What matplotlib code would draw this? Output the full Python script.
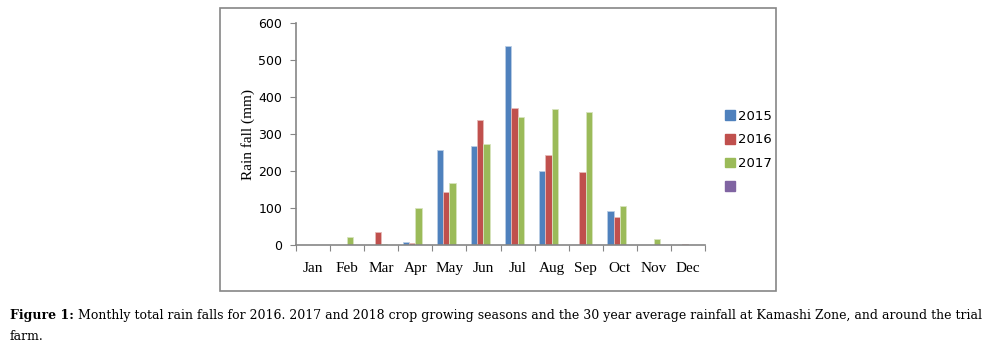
import matplotlib
matplotlib.use("Agg")
import matplotlib.pyplot as plt
from matplotlib.patches import Rectangle
import numpy as np

months = ["Jan", "Feb", "Mar", "Apr", "May", "Jun", "Jul", "Aug", "Sep", "Oct", "Nov", "Dec"]
series_names = ["2015", "2016", "2017", ""]
rain_2015 = [0, 0, 0, 10, 258, 268, 536, 199, 0, 92, 0, 0]
rain_2016 = [0, 0, 35, 6, 144, 338, 371, 243, 197, 77, 0, 3]
rain_2017 = [0, 22, 3, 101, 167, 274, 346, 367, 360, 107, 17, 0]
rain_extra = [0] * 12
yticks = [0, 100, 200, 300, 400, 500, 600]
caption_bold = "Figure 1:"
caption_rest = " Monthly total rain falls for 2016. 2017 and 2018 crop growing seasons and the 30 year average rainfall at Kamashi Zone, and around the trial"
caption_line2 = "farm."

colors = ["#4F81BD", "#C0504D", "#9BBB59", "#8064A2"]
edge_colors = ["#B9CDE5", "#E6B9B8", "#D7E4BD", "#CCC1DA"]
W, H = 999, 353
fig = plt.figure(figsize=(W / 100, H / 100), dpi=100)

# outer chart frame
fig.patches.append(Rectangle((219.5 / W, 1 - 290.5 / H), (775.5 - 219.5) / W, (290.5 - 8) / H,
                             transform=fig.transFigure, fill=False, edgecolor="#868686", lw=1.2))

ax = fig.add_axes([296 / W, 1 - 245.3 / H, (705 - 296) / W, (245.3 - 22.7) / H])
x = np.arange(len(months))
bw = 0.183
all_series = [rain_2015, rain_2016, rain_2017, rain_extra]
handles = []
for i, (vals, c, ec, name) in enumerate(zip(all_series, colors, edge_colors, series_names)):
    b = ax.bar(x + (i - 1.5) * bw, vals, width=bw, color=c, label=name,
               edgecolor=ec, linewidth=0.6)
    handles.append(b)

ax.set_xlim(-0.5, 11.5)
ax.set_ylim(0, 600)
ax.set_yticks(yticks)
ax.set_yticklabels([str(v) for v in yticks], fontsize=9, family="DejaVu Sans")
ax.set_xticks(np.arange(-0.5, 12, 1))
ax.set_xticklabels([])
ax.set_xticks(x, minor=True)
ax.set_xticklabels(months, minor=True, fontsize=11, family="Liberation Serif")
ax.tick_params(axis="x", which="minor", length=0, pad=12)
ax.tick_params(axis="x", which="major", length=4, color="#868686", direction="out")
ax.tick_params(axis="y", length=4, color="#868686", direction="out", pad=6)
for s in ["top", "right"]:
    ax.spines[s].set_visible(False)
for s in ["left", "bottom"]:
    ax.spines[s].set_color("#868686")
    ax.spines[s].set_linewidth(1.2)
ax.spines["bottom"].set_zorder(3)
ax.set_ylabel("Rain fall (mm)", fontsize=11, family="Liberation Serif", labelpad=2)

leg_handles = [Rectangle((0, 0), 1, 1, color=c) for c in colors]
fig.legend(handles=leg_handles, labels=series_names, loc="upper left",
           bbox_to_anchor=(713 / W, 1 - 98 / H), frameon=False,
           prop={"family": "DejaVu Sans", "size": 9.5},
           handlelength=0.75, handleheight=0.75, handletextpad=0.25, labelspacing=0.8)

# caption: fit first line to the reference width
renderer = fig.canvas.get_renderer()
size = 10.0
cap_fam = "DejaVu Serif"
for _ in range(3):
    t1 = fig.text(10 / W, 1 - 315 / H, caption_bold, fontsize=size, family=cap_fam,
                  fontweight="bold", va="center", ha="left")
    bb = t1.get_window_extent(renderer=renderer)
    t2 = fig.text(bb.x1 / W, 1 - 315 / H, caption_rest, fontsize=size, family=cap_fam,
                  va="center", ha="left")
    bb2 = t2.get_window_extent(renderer=renderer)
    width = bb2.x1 - bb.x0
    t1.remove()
    t2.remove()
    size = size * 975.0 / width
t1 = fig.text(10 / W, 1 - 315 / H, caption_bold, fontsize=size, family=cap_fam,
              fontweight="bold", va="center", ha="left")
bb = t1.get_window_extent(renderer=renderer)
fig.text(bb.x1 / W, 1 - 315 / H, caption_rest, fontsize=size, family=cap_fam,
         va="center", ha="left")
fig.text(10 / W, 1 - 336 / H, caption_line2, fontsize=size, family=cap_fam,
         va="center", ha="left")

fig.savefig("out.png", dpi=100)
